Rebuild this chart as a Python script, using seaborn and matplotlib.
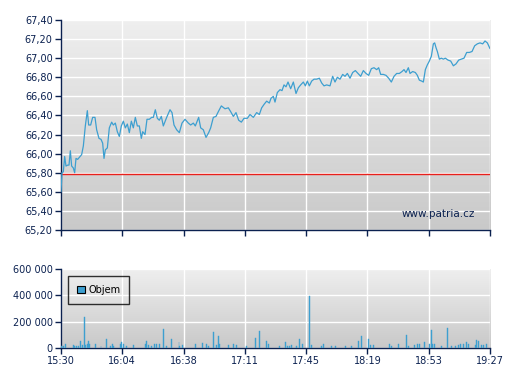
import numpy as np
import pandas as pd
import matplotlib
matplotlib.use('Agg')
import matplotlib.pyplot as plt
import seaborn as sns

# price series: minutes after 15:30 and price
minutes = [0, 0.55, 1.29, 2.03, 2.76, 3.68, 4.42, 5.16, 5.89, 6.81, 7.55, 8.29, 9.21, 10.5, 11.42,
           12.34, 13.44, 14.55, 15.28, 16.39, 17.49, 18.78, 19.7, 20.99, 22.1, 23.02, 23.76, 24.49,
           25.6, 26.7, 27.99, 28.91, 30.02, 31.12, 32.23, 33.33, 34.44, 35.54, 36.65, 37.75, 38.86,
           39.96, 41.07, 42.17, 43.28, 44.38, 45.12, 46.41, 47.51, 48.8, 50.09, 51.01, 52.11, 53.22,
           54.32, 55.43, 56.53, 58.38, 60.22, 61.32, 62.43, 63.9, 65.37, 66.85, 68.5, 70.35, 71.63,
           73.11, 74.21, 76.05, 77.16, 78.63, 80.11, 81.58, 82.68, 84.16, 85.63, 86.92, 88.58, 90.6,
           92.44, 93.73, 95.21, 96.68, 98.15, 99.63, 101.1, 102.94, 104.41, 106.26, 108.1, 109.57,
           110.86, 112.33, 113.62, 115.09, 116.01, 117.3, 118.22, 119.51, 120.99, 122.09, 123.2,
           124.3, 125.41, 126.88, 128.35, 129.83, 131.12, 132.41, 133.88, 134.99, 136.09, 137.19,
           138.48, 139.77, 141.24, 142.72, 144.01, 145.29, 146.77, 148.61, 150.08, 151.37, 152.66,
           154.13, 155.61, 156.9, 158.19, 159.66, 161.13, 162.61, 164.08, 165.55, 167.02, 168.5,
           169.97, 171.44, 172.92, 174.39, 175.49, 176.6, 178.07, 179.55, 181.02, 182.49, 183.97,
           185.44, 186.91, 188.38, 189.49, 190.59, 191.88, 192.81, 194.28, 195.75, 196.86, 197.96,
           199.25, 200.17, 201.28, 202.38, 203.49, 204.59, 205.7, 206.43, 207.17, 207.91, 209.01,
           210.12, 211.22, 212.33, 213.8, 215.27, 216.75, 218.22, 219.69, 221.17, 222.64, 224.11,
           225.59, 227.06, 228.53, 230.0, 231.48, 232.95, 234.24, 235.53, 237.0]
prices = [65.60, 65.80, 65.81, 65.97, 65.87, 65.88, 65.88, 66.03, 65.87, 65.85, 65.80, 65.95, 65.94,
          65.97, 65.99, 66.08, 66.29, 66.45, 66.30, 66.30, 66.38, 66.38, 66.25, 66.16, 66.15, 66.11,
          65.95, 66.04, 66.06, 66.27, 66.33, 66.30, 66.32, 66.23, 66.18, 66.29, 66.34, 66.27, 66.31,
          66.22, 66.34, 66.27, 66.38, 66.29, 66.29, 66.16, 66.23, 66.20, 66.36, 66.36, 66.38, 66.38,
          66.46, 66.37, 66.35, 66.39, 66.29, 66.38, 66.46, 66.43, 66.30, 66.25, 66.22, 66.32, 66.36,
          66.32, 66.30, 66.32, 66.29, 66.38, 66.27, 66.25, 66.17, 66.22, 66.27, 66.38, 66.39, 66.44,
          66.50, 66.47, 66.48, 66.44, 66.39, 66.43, 66.35, 66.33, 66.37, 66.37, 66.41, 66.38, 66.43,
          66.41, 66.48, 66.52, 66.55, 66.53, 66.58, 66.60, 66.54, 66.64, 66.67, 66.66, 66.72, 66.70,
          66.75, 66.68, 66.75, 66.63, 66.69, 66.72, 66.75, 66.71, 66.76, 66.71, 66.76, 66.78, 66.78,
          66.79, 66.74, 66.71, 66.72, 66.71, 66.81, 66.75, 66.80, 66.78, 66.83, 66.81, 66.84, 66.79,
          66.85, 66.87, 66.84, 66.81, 66.87, 66.84, 66.82, 66.89, 66.90, 66.88, 66.90, 66.83, 66.83,
          66.82, 66.79, 66.75, 66.81, 66.84, 66.84, 66.86, 66.88, 66.85, 66.90, 66.84, 66.86, 66.85,
          66.82, 66.77, 66.76, 66.75, 66.88, 66.93, 66.97, 67.02, 67.15, 67.16, 67.11, 67.07, 66.99,
          67.00, 66.99, 67.00, 66.98, 66.97, 66.92, 66.94, 66.98, 66.99, 67.00, 67.06, 67.06, 67.07,
          67.13, 67.15, 67.16, 67.15, 67.18, 67.16, 67.10]
prev_close = 65.79

# volume bars
vol_minutes = [0.55, 1.29, 2.76, 6.81, 7.73, 8.65, 9.76, 10.68, 11.97, 12.89, 13.81, 14.55, 15.1,
               16.02, 18.97, 22.1, 25.41, 27.62, 28.36, 29.28, 32.96, 33.7, 34.44, 36.28, 39.96,
               46.59, 47.51, 48.25, 50.09, 51.93, 52.66, 54.32, 56.53, 58.01, 61.32, 65.19, 65.74,
               66.85, 74.03, 77.9, 80.47, 81.39, 84.52, 86.0, 86.92, 87.47, 92.63, 95.21, 97.05,
               102.57, 107.18, 109.57, 113.62, 114.54, 120.62, 123.75, 125.04, 126.14, 127.43,
               129.83, 131.67, 133.51, 137.19, 138.48, 144.01, 144.93, 149.53, 151.37, 156.9,
               160.58, 164.26, 165.74, 169.79, 171.07, 172.55, 181.39, 182.68, 186.36, 190.59,
               191.88, 195.02, 196.86, 197.96, 200.54, 203.49, 204.41, 205.14, 206.06, 210.3,
               213.61, 215.82, 217.66, 219.51, 220.43, 222.27, 223.74, 225.03, 228.71, 229.63,
               230.74, 232.4, 233.32, 235.16]
volumes = [13000, 13000, 28000, 20000, 13000, 13000, 13000, 53000, 20000, 236000, 20000, 33000,
           53000, 28000, 28000, 13000, 66000, 13000, 28000, 13000, 33000, 46000, 28000, 13000,
           20000, 28000, 53000, 20000, 13000, 33000, 28000, 28000, 142000, 13000, 66000, 46000,
           13000, 20000, 33000, 38000, 33000, 13000, 122000, 20000, 89000, 33000, 20000, 28000,
           20000, 13000, 79000, 130000, 53000, 28000, 13000, 43000, 13000, 13000, 20000, 13000,
           66000, 28000, 394000, 20000, 13000, 28000, 13000, 13000, 13000, 13000, 53000, 89000,
           66000, 20000, 20000, 28000, 13000, 33000, 97000, 13000, 20000, 28000, 33000, 46000,
           28000, 135000, 28000, 28000, 13000, 150000, 13000, 13000, 20000, 28000, 33000, 43000,
           33000, 20000, 58000, 51000, 20000, 20000, 28000]

tick_labels = ['15:30', '16:04', '16:38', '17:11', '17:45', '18:19', '18:53', '19:27']
tick_pos = np.linspace(0, 237, len(tick_labels))

price_df = pd.DataFrame({'t': minutes, 'price': prices})

sns.set_style('white')
plt.rcParams['font.family'] = ['DejaVu Sans']
navy = '#0b2150'
blue = '#3d9fd0'

fig = plt.figure(figsize=(5.07, 3.8), dpi=100)
ax1 = fig.add_axes([0.1203, 0.3947, 0.8462, 0.5527])
ax2 = fig.add_axes([0.1203, 0.0842, 0.8462, 0.2079])

grad = np.linspace(0, 1, 256).reshape(-1, 1)
for ax in (ax1, ax2):
    ax.imshow(grad, extent=[0, 1, 0, 1], transform=ax.transAxes, aspect='auto',
              cmap=matplotlib.colors.LinearSegmentedColormap.from_list('g', ['#efefef', '#c9c9c9']),
              zorder=0)
    ax.set_xlim(0, 237)
    ax.set_xticks(tick_pos)
    ax.grid(True, color='white', linewidth=1)
    for s in ('top', 'right'):
        ax.spines[s].set_visible(False)
    for s in ('left', 'bottom'):
        ax.spines[s].set_color(navy)
        ax.spines[s].set_linewidth(1)
    ax.tick_params(axis='both', direction='out', length=4, width=1, color=navy,
                   labelcolor=navy, labelsize=7, left=True, bottom=True, pad=2)

sns.lineplot(data=price_df, x='t', y='price', ax=ax1, color=blue, linewidth=0.9, zorder=3)
ax1.axhline(prev_close, color='#e8201c', linewidth=1, zorder=2)
ax1.set_ylim(65.2, 67.4)
yt = np.round(np.arange(65.2, 67.41, 0.2), 2)
ax1.set_yticks(yt)
ax1.set_yticklabels([f'{v:.2f}'.replace('.', ',') for v in yt])
ax1.set_xticklabels([])
ax1.set_xlabel('')
ax1.set_ylabel('')
ax1.text(0.965, 0.075, 'www.patria.cz', transform=ax1.transAxes, ha='right', va='center',
         fontsize=7.5, color=navy)

ax2.bar(vol_minutes, volumes, width=0.55, color=blue, edgecolor=blue, linewidth=0.3,
        zorder=3, label='Objem')
ax2.set_ylim(0, 600000)
ax2.set_yticks([0, 200000, 400000, 600000])
ax2.set_yticklabels(['0', '200 000', '400 000', '600 000'])
ax2.set_xticklabels(tick_labels)
leg = ax2.legend(loc='upper left', bbox_to_anchor=(0.005, 0.97), frameon=True, fontsize=7,
                 fancybox=False, handlelength=0.8, handleheight=0.8, handletextpad=0.4,
                 borderpad=0.9, labelcolor='black')
leg.get_frame().set_edgecolor('black')
leg.get_frame().set_facecolor('none')
leg.get_frame().set_linewidth(1)
for h in leg.legend_handles:
    h.set_edgecolor('black')
    h.set_linewidth(0.8)

fig.savefig('out.png', dpi=100)
